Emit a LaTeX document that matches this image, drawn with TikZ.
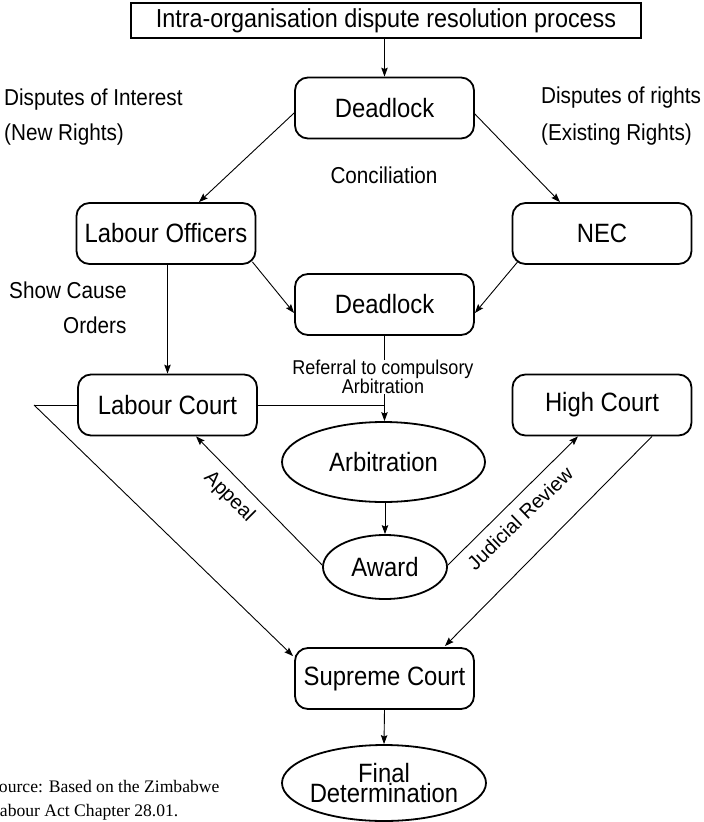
\documentclass[tikz,border=0pt]{standalone}
\usepackage{fontspec}
\setmainfont{Liberation Sans}[FakeStretch=0.9]
\newfontfamily\plainfont{Liberation Sans}
\newfontfamily\srcfont{Liberation Serif}
\usetikzlibrary{arrows.meta,shapes.geometric,calc}
\begin{document}
\begin{tikzpicture}[x=1pt,y=-1pt,
  box/.style={draw, line width=1.8pt, rounded corners=13pt, minimum width=179pt, minimum height=61pt, inner sep=0pt, font=\fontsize{26.5}{30}\selectfont},
  oval/.style={draw, ellipse, line width=1.8pt, inner sep=0pt, font=\fontsize{26.5}{30}\selectfont},
  lbl/.style={font=\fontsize{23}{27}\selectfont, inner sep=0pt},
  slant/.style={font=\plainfont\fontsize{20}{24}\selectfont, inner sep=0pt},
  conn/.style={line width=0.9pt},
  arr/.style={conn, -{Stealth[length=9pt,width=6.5pt,inset=1.5pt]}},
]
\useasboundingbox (0,0) rectangle (704,822);
% nodes
\node[draw, line width=1.1pt, minimum width=510pt, minimum height=35pt, inner sep=0pt, font=\fontsize{26}{30}\selectfont] (top) at (386,20.5) {Intra-organisation dispute resolution process};
\node[box] (d1) at (384.5,108) {Deadlock};
\node[box] (lo) at (166,233.5) {Labour Officers};
\node[box] (nec) at (602,233.5) {NEC};
\node[box] (d2) at (384.5,304.5) {Deadlock};
\node[box] (lc) at (167.5,405) {Labour Court};
\node[box] (hc) at (602,405) {High Court};
\node[oval, minimum width=203pt, minimum height=80pt] (arb) at (383.5,462) {Arbitration};
\node[oval, minimum width=124pt, minimum height=64pt] (award) at (385,567) {Award};
\node[box] (sc) at (384.5,678.5) {Supreme Court};
\node[oval, minimum width=204pt, minimum height=76pt,
  label={[name=finlbl, align=center, inner sep=0pt, font=\fontsize{26.5}{20}\selectfont]center:Final\\Determination}] (fin) at (384,783) {};
% labels
\node[lbl, anchor=west] (dint) at (4,100) {Disputes of Interest};
\node[lbl, anchor=west] (newr) at (4,135) {(New Rights)};
\node[lbl, anchor=west] (drig) at (541,98) {Disputes of rights};
\node[lbl, anchor=west] (exr) at (541,135) {(Existing Rights)};
\node[lbl] (conc) at (384,175) {Conciliation};
\node[lbl, anchor=west] (show) at (9,290) {Show Cause};
\node[lbl, anchor=west] (ord) at (63,325) {Orders};
\node[inner sep=0pt, align=center, font=\fontsize{20}{15}\selectfont] (ref) at (383,377) {Referral to compulsory\\Arbitration};
\node[slant, rotate=-45] (appeal) at (229,497) {Appeal};
\node[slant, rotate=44] (jr) at (520,518) {Judicial Review};
% connectors
\draw[arr] (d1.north |- top.south) -- (d1.north);
\draw[arr] ($(d1.west)+(0,5)$) -- ($(lo.north)+(33,0)$);
\draw[arr] ($(d1.east)+(0,6)$) -- ($(nec.north)+(-42,0)$);
\draw[arr] ($(lo.south east)+(-4,-3)$) -- ($(d2.west)+(0,8.5)$);
\draw[arr] ($(nec.south west)+(6,-3)$) -- ($(d2.east)+(0,8.5)$);
\draw[arr] (lc.north |- lo.south) -- (lc.north);
\draw[conn] (d2.south) -- (d2.south |- ref.north);
\draw[arr] (d2.south |- ref.south) -- (d2.south |- arb.north);
\coordinate (j) at (d2.south |- lc.east);
\draw[conn] (lc.east) -- (j);
\coordinate (lft) at (34,405);
\draw[conn] (lc.west) -- (lft);
\draw[arr] (lft) -- ($(sc.north west)+(-1,9)$);
\draw[arr] (award.north |- arb.south) -- (award.north);
\draw[arr] ($(award.west)+(0,-2)$) -- ($(lc.south)+(28.5,0)$);
\draw[arr] ($(award.east)+(0,-2)$) -- ($(hc.south)+(-24,0)$);
\draw[arr] ($(hc.south)+(50,0)$) -- ($(sc.north east)+(-30,-1)$);
\draw[arr] (sc.south) -- (fin.north);
% source
\begin{scope}
\clip (0,0) rectangle (704,822);
\node[anchor=west, align=left, inner sep=0pt, font=\srcfont\fontsize{17.6}{24}\selectfont] (src) at (-11,800) {Source: Based on the Zimbabwe\\Labour Act Chapter 28.01.};
\end{scope}
\end{tikzpicture}
\end{document}
